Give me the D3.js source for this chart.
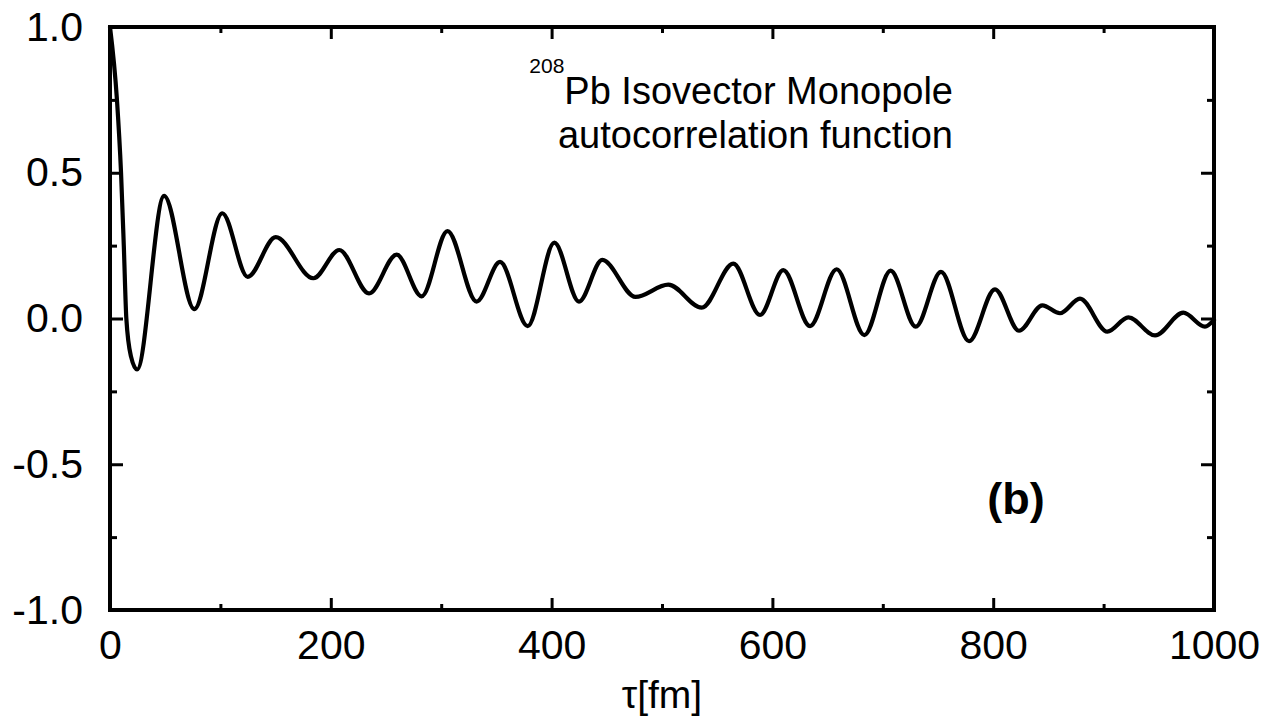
<!DOCTYPE html>
<html>
<head>
<meta charset="utf-8">
<script src="https://cdn.jsdelivr.net/npm/d3@7"></script>
<style>
  html, body { margin: 0; padding: 0; background: #fff; }
  svg { display: block; }
  text { font-family: "Liberation Sans", Arial, Helvetica, sans-serif; fill: #000; }
</style>
</head>
<body>
<svg id="chart" width="1266" height="725"></svg>
<script>
// ---- data ----
const tau = [0, 6.3, 10, 12.5, 14.8, 19, 24.5, 49, 76.4, 101.7, 124.7, 150.1, 184.2, 207.7, 234.6,
  259.7, 282.3, 305.7, 332.1, 353.3, 378.3, 402.5, 424.8, 445.9, 476, 505.7, 536, 564.6, 588.8,
  609.9, 634.1, 658.2, 683.3, 707.1, 729.8, 752.7, 778.1, 801.6, 823.4, 844.5, 860.5, 878.6,
  903.4, 922.4, 946.6, 972.2, 991.8, 1000];
const acf = [1.0, 0.75, 0.5, 0.25, 0.0, -0.13, -0.175, 0.421, 0.032, 0.361, 0.143, 0.279, 0.138, 0.235, 0.086,
  0.219, 0.076, 0.300, 0.058, 0.194, -0.026, 0.260, 0.058, 0.201, 0.074, 0.116, 0.037, 0.188, 0.012,
  0.166, -0.026, 0.169, -0.057, 0.164, -0.028, 0.160, -0.078, 0.100, -0.042, 0.045, 0.018, 0.068,
  -0.045, 0.004, -0.058, 0.020, -0.028, -0.005];

const xTicks = [0, 200, 400, 600, 800, 1000];
const xMinorTicks = [100, 300, 500, 700, 900];
const yTicks = [-1.0, -0.5, 0.0, 0.5, 1.0];
const yTickLabels = ["-1.0", "-0.5", "0.0", "0.5", "1.0"];
const yMinorTicks = [-0.75, -0.25, 0.25, 0.75];
const titleSup = "208";
const titleLine1 = "Pb Isovector Monopole";
const titleLine2 = "autocorrelation function";
const panelLabel = "(b)";
const xAxisTitle = "τ[fm]";

// ---- layout ----
const L = 110, R = 1214, T = 27, B = 610;
const svg = d3.select("#chart");
svg.append("rect").attr("width", 1266).attr("height", 725).attr("fill", "#fff");

const x = d3.scaleLinear().domain([0, 1000]).range([L, R]);
const y = d3.scaleLinear().domain([-1, 1]).range([B, T]);

const fs = 41;

function styleAxis(g) {
  g.select(".domain").remove();
  g.selectAll(".tick line").attr("stroke", "#000").attr("stroke-width", 3);
  g.selectAll(".tick text").attr("font-size", fs).attr("font-family", '"Liberation Sans", Arial, sans-serif').attr("fill", "#000");
}

// bottom axis (major, labelled)
svg.append("g").attr("transform", `translate(0,${B})`)
  .call(d3.axisBottom(x).tickValues(xTicks).tickSize(-12).tickPadding(20).tickFormat(d3.format("d")))
  .call(styleAxis);
svg.append("g").attr("transform", `translate(0,${B})`)
  .call(d3.axisBottom(x).tickValues(xMinorTicks).tickSize(-6).tickFormat(""))
  .call(styleAxis);
// top axis
svg.append("g").attr("transform", `translate(0,${T})`)
  .call(d3.axisTop(x).tickValues(xTicks).tickSize(-12).tickFormat(""))
  .call(styleAxis);
svg.append("g").attr("transform", `translate(0,${T})`)
  .call(d3.axisTop(x).tickValues(xMinorTicks).tickSize(-6).tickFormat(""))
  .call(styleAxis);
// left axis
svg.append("g").attr("transform", `translate(${L},0)`)
  .call(d3.axisLeft(y).tickValues(yTicks).tickSize(-13).tickPadding(27)
    .tickFormat((d, i) => yTickLabels[i]))
  .call(styleAxis);
svg.append("g").attr("transform", `translate(${L},0)`)
  .call(d3.axisLeft(y).tickValues(yMinorTicks).tickSize(-7).tickFormat(""))
  .call(styleAxis);
// right axis
svg.append("g").attr("transform", `translate(${R},0)`)
  .call(d3.axisRight(y).tickValues(yTicks).tickSize(-13).tickFormat(""))
  .call(styleAxis);
svg.append("g").attr("transform", `translate(${R},0)`)
  .call(d3.axisRight(y).tickValues(yMinorTicks).tickSize(-7).tickFormat(""))
  .call(styleAxis);

// frame
svg.append("rect").attr("x", L).attr("y", T).attr("width", R - L).attr("height", B - T)
  .attr("fill", "none").attr("stroke", "#000").attr("stroke-width", 4);

// curve
const pts = tau.map((t, i) => [t, acf[i]]);
const line = d3.line().x(d => x(d[0])).y(d => y(d[1])).curve(d3.curveMonotoneX);
svg.append("path").datum(pts).attr("d", line)
  .attr("fill", "none").attr("stroke", "#000").attr("stroke-width", 4.2)
  .attr("stroke-linejoin", "round").attr("stroke-linecap", "round");

// title
const t1 = svg.append("text").attr("x", 953).attr("y", 104).attr("text-anchor", "end").attr("font-size", 38);
t1.append("tspan").attr("font-size", 21).attr("dy", -31).text(titleSup);
t1.append("tspan").attr("dy", 31).text(titleLine1);
svg.append("text").attr("x", 953).attr("y", 148).attr("text-anchor", "end").attr("font-size", 38).text(titleLine2);

// panel label
svg.append("text").attr("x", 1016).attr("y", 514).attr("text-anchor", "middle")
  .attr("font-size", 45).attr("font-weight", "bold").text(panelLabel);

// x axis title
svg.append("text").attr("x", (L + R) / 2).attr("y", 708).attr("text-anchor", "middle")
  .attr("font-size", 39).text(xAxisTitle);
</script>
</body>
</html>
